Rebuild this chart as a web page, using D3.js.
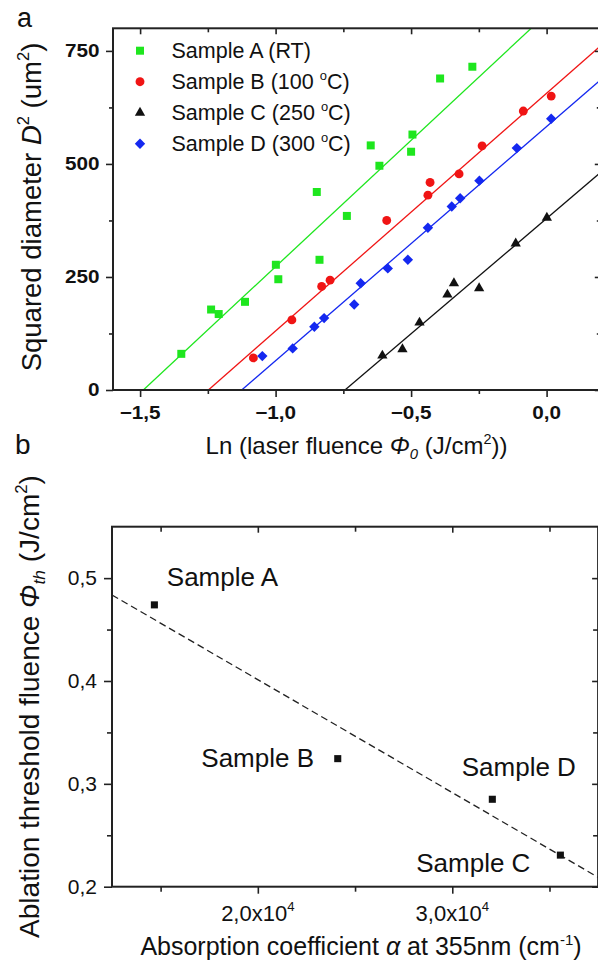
<!DOCTYPE html>
<html>
<head>
<meta charset="utf-8">
<script src="https://cdn.jsdelivr.net/npm/d3@7"></script>
<style>
  html, body { margin: 0; padding: 0; background: #fff; }
  svg { display: block; }
  text { font-family: "Liberation Sans", Arial, Helvetica, sans-serif; fill: #111; }
</style>
</head>
<body>
<svg id="chart" width="598" height="962"></svg>
<script>
// ---------- Panel (a): squared crater diameter vs. ln(laser fluence) ----------
const seriesNames = ["Sample A (RT)", "Sample B (100 °C)", "Sample C (250 °C)", "Sample D (300 °C)"];

const aLn = [-1.348, -1.238, -1.210, -1.113, -0.999, -0.990, -0.848, -0.838, -0.737, -0.649, -0.617, -0.500, -0.495, -0.393, -0.274];
const aD2 = [80, 178, 168, 195, 277, 245, 438, 288, 385, 541, 496, 527, 565, 689, 715];
const bLn = [-1.082, -0.940, -0.830, -0.799, -0.590, -0.438, -0.430, -0.323, -0.238, -0.086, 0.017];
const bD2 = [71, 155, 229, 243, 375, 431, 459, 478, 540, 617, 650];
const cLn = [-0.606, -0.532, -0.469, -0.366, -0.342, -0.249, -0.114, 0.001];
const cD2 = [76, 90, 149, 211, 236, 225, 324, 381];
const dLn = [-1.049, -0.937, -0.857, -0.821, -0.710, -0.686, -0.586, -0.512, -0.438, -0.350, -0.319, -0.248, -0.110, 0.017];
const dD2 = [75, 92, 140, 159, 189, 236, 269, 288, 359, 406, 424, 463, 535, 600];

// linear fits D² = slope * (ln Φ0 − ln Φth), one per sample (A, B, C, D)
const fitLnThreshold = [-1.488, -1.248, -0.744, -1.125];
const fitSlope = [559, 526, 510, 518];

const lnTicks = [-1.5, -1.0, -0.5, 0.0];
const lnMinor = [-1.25, -0.75, -0.25];
const d2Ticks = [0, 250, 500, 750];
const d2Minor = [125, 375, 625];

// ---------- Panel (b): ablation threshold vs. absorption coefficient ----------
const thrSamples = ["Sample A", "Sample B", "Sample C", "Sample D"];
const absorption = [14680, 24110, 35560, 32060];
const threshold = [0.474, 0.3245, 0.2307, 0.285];
const thrFitIntercept = 0.6209;
const thrFitSlope = -1.098e-5;

const alphaTicks = [20000, 30000];
const alphaMinor = [15000, 25000, 35000];
const phiTicks = [0.2, 0.3, 0.4, 0.5];
const phiMinor = [0.25, 0.35, 0.45];

// ---------- styling ----------
const colors = ["#1ee61e", "#f01414", "#111111", "#1428f0"];
const symbols = [d3.symbolSquare, d3.symbolCircle, d3.symbolTriangle, d3.symbolSquare];
const symSizes = [64, 62, 46, 54];
const symRotate = [0, 0, 0, 45];
const axisColor = "#222";

const svg = d3.select("#chart");

const PA = { left: 113, right: 600.8, top: 28.3, bottom: 390 };
const PB = { left: 112, right: 598.1, top: 526.7, bottom: 886.7 };

const xA = d3.scaleLinear().domain([-1.6, 0.2]).range([PA.left, PA.right]);
const yA = d3.scaleLinear().domain([0, 800]).range([PA.bottom, PA.top]);
const xB = d3.scaleLinear().domain([12500, 37500]).range([PB.left, PB.right]);
const yB = d3.scaleLinear().domain([0.2, 0.55]).range([PB.bottom, PB.top]);

const comma = v => d3.format(".1f")(v).replace(".", ",");

// text with superscript / subscript / italic pieces
function rich(sel, parts, fs) {
  let shift = 0;
  parts.forEach(p => {
    const ts = sel.append("tspan").text(p.t);
    let target = 0, size = fs;
    if (p.sup) { target = -fs * 0.42; size = fs * 0.6; }
    if (p.sub) { target = fs * 0.22; size = fs * 0.62; }
    ts.attr("dy", target - shift);
    shift = target;
    if (size !== fs) ts.attr("font-size", size);
    if (p.it) ts.attr("font-style", "italic");
  });
  return sel;
}

// text placed with an optional horizontal stretch and rotation
function place(x, y, parts, o) {
  const fs = o.size;
  const t = svg.append("text")
    .attr("transform", `translate(${x},${y}) scale(${o.sx || 1},1) rotate(${o.rot || 0})`)
    .attr("font-size", fs)
    .attr("font-weight", o.bold ? "bold" : null)
    .attr("text-anchor", o.anchor || "start");
  return rich(t, parts, fs);
}

function tickAxis(g, axisFn, scale, vals, size) {
  g.call(axisFn(scale).tickValues(vals).tickSize(size).tickFormat(""));
  g.select(".domain").remove();
  g.selectAll("line").attr("stroke", axisColor).attr("stroke-width", 1.6);
}

// ======== Panel (a) ========
const gA = svg.append("g");
svg.append("clipPath").attr("id", "clipA").append("rect")
  .attr("x", PA.left).attr("y", PA.top)
  .attr("width", PA.right - PA.left).attr("height", PA.bottom - PA.top);

// fit lines
const lineA = d3.line().x(d => xA(d[0])).y(d => yA(d[1]));
fitLnThreshold.forEach((x0, i) => {
  const x1 = xA.domain()[1];
  gA.append("path")
    .attr("clip-path", "url(#clipA)")
    .attr("d", lineA([[x0, 0], [x1, fitSlope[i] * (x1 - x0)]]))
    .attr("fill", "none").attr("stroke", colors[i]).attr("stroke-width", 1.3);
});

// data points
const seriesData = [[aLn, aD2], [bLn, bD2], [cLn, cD2], [dLn, dD2]];
seriesData.forEach(([xs, ys], i) => {
  const sym = d3.symbol().type(symbols[i]).size(symSizes[i]);
  gA.append("g").selectAll("path").data(xs.map((x, k) => [x, ys[k]])).join("path")
    .attr("d", sym)
    .attr("transform", d => `translate(${xA(d[0])},${yA(d[1])}) rotate(${symRotate[i]})`)
    .attr("fill", colors[i]);
});

// frame + ticks
tickAxis(gA.append("g").attr("transform", `translate(0,${PA.bottom})`), d3.axisBottom, xA, lnTicks, 7);
tickAxis(gA.append("g").attr("transform", `translate(0,${PA.bottom})`), d3.axisBottom, xA, lnMinor, 4);
tickAxis(gA.append("g").attr("transform", `translate(0,${PA.top})`), d3.axisTop, xA, lnTicks, -6);
tickAxis(gA.append("g").attr("transform", `translate(0,${PA.top})`), d3.axisTop, xA, lnMinor, -4);
tickAxis(gA.append("g").attr("transform", `translate(${PA.left},0)`), d3.axisLeft, yA, d2Ticks, 7);
tickAxis(gA.append("g").attr("transform", `translate(${PA.left},0)`), d3.axisLeft, yA, d2Minor, 4);
tickAxis(gA.append("g").attr("transform", `translate(${PA.right},0)`), d3.axisRight, yA, d2Ticks, -6);
tickAxis(gA.append("g").attr("transform", `translate(${PA.right},0)`), d3.axisRight, yA, d2Minor, -4);
gA.append("rect")
  .attr("x", PA.left).attr("y", PA.top)
  .attr("width", PA.right - PA.left).attr("height", PA.bottom - PA.top)
  .attr("fill", "none").attr("stroke", axisColor).attr("stroke-width", 2);

lnTicks.forEach(v => place(xA(v), PA.bottom + 28.5, [{ t: comma(v) }], { size: 18, bold: true, sx: 1.15, anchor: "middle" }));
d2Ticks.forEach(v => place(PA.left - 13.5, yA(v) + 6.3, [{ t: String(v) }], { size: 18, bold: true, sx: 1.15, anchor: "end" }));

// legend
seriesNames.forEach((name, i) => {
  const ly = 50.7 + i * 31;
  const sym = d3.symbol().type(symbols[i]).size(symSizes[i]);
  svg.append("path").attr("d", sym)
    .attr("transform", `translate(140,${ly}) rotate(${symRotate[i]})`)
    .attr("fill", colors[i]);
  const pieces = name.split("°");
  const parts = pieces.length > 1
    ? [{ t: pieces[0] }, { t: "o", sup: true }, { t: pieces[1] }]
    : [{ t: name }];
  place(171.5, ly + 7.6, parts, { size: 21.5 });
});

// axis titles
place(40.5, 207, [
  { t: "Squared diameter " }, { t: "D", it: true }, { t: "2", sup: true },
  { t: " (um" }, { t: "2", sup: true }, { t: ")" }
], { size: 27.5, rot: -90, anchor: "middle" });
place(356.5, 454, [
  { t: "Ln (laser fluence " }, { t: "Φ", it: true }, { t: "0", sub: true, it: true },
  { t: " (J/cm" }, { t: "2", sup: true }, { t: "))" }
], { size: 24, anchor: "middle" });
place(17, 27, [{ t: "a" }], { size: 27 });

// ======== Panel (b) ========
const gB = svg.append("g");
svg.append("clipPath").attr("id", "clipB").append("rect")
  .attr("x", PB.left).attr("y", PB.top)
  .attr("width", PB.right - PB.left).attr("height", PB.bottom - PB.top);

const lineB = d3.line().x(d => xB(d[0])).y(d => yB(d[1]));
const [bx0, bx1] = xB.domain();
gB.append("path")
  .attr("clip-path", "url(#clipB)")
  .attr("d", lineB([[bx0, thrFitIntercept + thrFitSlope * bx0], [bx1, thrFitIntercept + thrFitSlope * bx1]]))
  .attr("fill", "none").attr("stroke", "#222").attr("stroke-width", 1.3)
  .attr("stroke-dasharray", "7,4");

const sqB = d3.symbol().type(d3.symbolSquare).size(50);
gB.selectAll("path.pt").data(absorption.map((a, k) => [a, threshold[k]])).join("path")
  .attr("class", "pt")
  .attr("d", sqB)
  .attr("transform", d => `translate(${xB(d[0])},${yB(d[1])})`)
  .attr("fill", "#111");

// sample labels next to each point
const labelOffset = [[12.4, -19.3, "start"], [-23.7, 8.4, "end"], [-30, 16.7, "end"], [-30.6, -23, "start"]];
thrSamples.forEach((s, k) => {
  const [dx, dy, anchor] = labelOffset[k];
  place(xB(absorption[k]) + dx, yB(threshold[k]) + dy, [{ t: s }], { size: 26, anchor });
});

tickAxis(gB.append("g").attr("transform", `translate(0,${PB.bottom})`), d3.axisBottom, xB, alphaTicks, 7);
tickAxis(gB.append("g").attr("transform", `translate(0,${PB.bottom})`), d3.axisBottom, xB, alphaMinor, 5);
tickAxis(gB.append("g").attr("transform", `translate(0,${PB.top})`), d3.axisTop, xB, alphaTicks, -6);
tickAxis(gB.append("g").attr("transform", `translate(0,${PB.top})`), d3.axisTop, xB, alphaMinor, -5);
tickAxis(gB.append("g").attr("transform", `translate(${PB.left},0)`), d3.axisLeft, yB, phiTicks, 8);
tickAxis(gB.append("g").attr("transform", `translate(${PB.left},0)`), d3.axisLeft, yB, phiMinor, 5);
tickAxis(gB.append("g").attr("transform", `translate(${PB.right},0)`), d3.axisRight, yB, phiTicks, -6);
tickAxis(gB.append("g").attr("transform", `translate(${PB.right},0)`), d3.axisRight, yB, phiMinor, -5);
gB.append("rect")
  .attr("x", PB.left).attr("y", PB.top)
  .attr("width", PB.right - PB.left).attr("height", PB.bottom - PB.top)
  .attr("fill", "none").attr("stroke", axisColor).attr("stroke-width", 2);

alphaTicks.forEach(v => {
  const exp = Math.floor(Math.log10(v));
  place(xB(v), PB.bottom + 34, [{ t: comma(v / Math.pow(10, exp)) + "x10" }, { t: String(exp), sup: true }],
    { size: 22, anchor: "middle" });
});
phiTicks.forEach(v => place(PB.left - 15, yB(v) + 7, [{ t: comma(v) }], { size: 21, anchor: "end" }));

place(38.5, 706.5, [
  { t: "Ablation threshold fluence " }, { t: "Φ", it: true }, { t: "th", sub: true, it: true },
  { t: " (J/cm" }, { t: "2", sup: true }, { t: ")" }
], { size: 28, rot: -90, anchor: "middle" });
place(361, 955, [
  { t: "Absorption coefficient " }, { t: "α", it: true }, { t: " at 355nm (cm" },
  { t: "-1", sup: true }, { t: ")" }
], { size: 25, anchor: "middle" });
place(15, 454, [{ t: "b" }], { size: 28 });
</script>
</body>
</html>
